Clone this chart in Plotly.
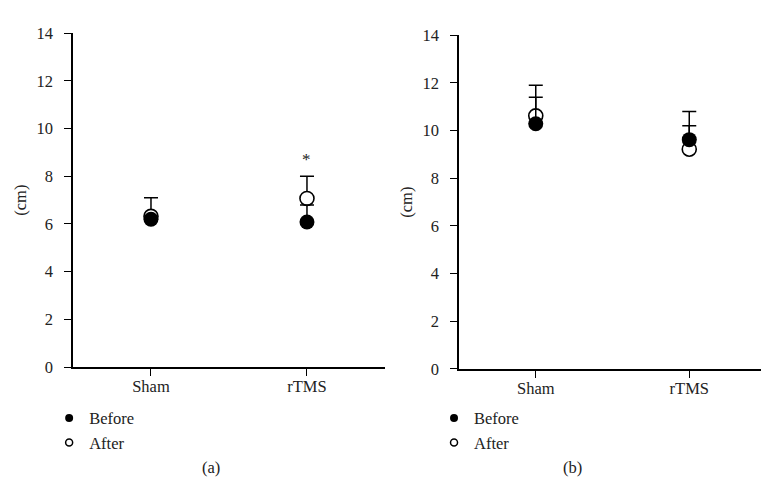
import plotly.graph_objects as go

groups = ["Sham", "rTMS"]
xpos = [1, 2]

# Panel (a)
a_before = [6.2, 6.08]
a_before_err = [0.0, 0.72]
a_after = [6.32, 7.07]
a_after_err = [0.78, 0.93]

# Panel (b)
b_before = [10.29, 9.62]
b_before_err = [1.11, 1.18]
b_after = [10.62, 9.22]
b_after_err = [1.28, 0.98]

yticks = [0, 2, 4, 6, 8, 10, 12, 14]

FONT = "Liberation Serif"
FS = 16.5
fig = go.Figure()


def add_panel(xa, ya, before, berr, after, aerr):
    fig.add_trace(go.Scatter(
        x=xpos, y=after, mode="markers", xaxis=xa, yaxis=ya, showlegend=False,
        marker=dict(size=14, color="white", line=dict(color="black", width=1.6)),
        error_y=dict(type="data", symmetric=False, array=aerr, arrayminus=[0, 0],
                     color="black", thickness=1.5, width=7)))
    fig.add_trace(go.Scatter(
        x=xpos, y=before, mode="markers", xaxis=xa, yaxis=ya, showlegend=False,
        marker=dict(size=15, color="black", line=dict(color="black", width=0)),
        error_y=dict(type="data", symmetric=False, array=berr, arrayminus=[0, 0],
                     color="black", thickness=1.5, width=7)))


add_panel("x", "y", a_before, a_before_err, a_after, a_after_err)
add_panel("x2", "y2", b_before, b_before_err, b_after, b_after_err)

# legend proxies
for lg in ["legend", "legend2"]:
    fig.add_trace(go.Scatter(x=[None], y=[None], mode="markers", name="Before", legend=lg,
                             marker=dict(size=8, color="black")))
    fig.add_trace(go.Scatter(x=[None], y=[None], mode="markers", name="After", legend=lg,
                             marker=dict(size=7, color="white", line=dict(color="black", width=1.5))))

axis_common = dict(showline=True, linecolor="black", linewidth=1.5, ticks="outside",
                   ticklen=7, tickwidth=1.2, tickcolor="black", showgrid=False, zeroline=False,
                   tickfont=dict(family=FONT, size=FS, color="#222"))

fig.update_layout(
    width=769, height=486, paper_bgcolor="white", plot_bgcolor="white",
    margin=dict(l=0, r=0, t=0, b=0),
    font=dict(family=FONT, size=FS, color="#222"),
    xaxis=dict(domain=[0.0845, 0.4902], range=[0.5, 2.5], tickvals=xpos, ticktext=groups,
               anchor="y", ticklabelstandoff=-4, **axis_common),
    yaxis=dict(domain=[0.2502, 0.9656], range=[0, 14], tickvals=yticks, anchor="x",
               ticklabelstandoff=8,
               title=dict(text="(cm)", font=dict(family=FONT, size=FS), standoff=6),
               **axis_common),
    xaxis2=dict(domain=[0.5865, 0.9857], range=[0.5, 2.5], tickvals=xpos, ticktext=groups,
                anchor="y2", ticklabelstandoff=-4, **axis_common),
    yaxis2=dict(domain=[0.2463, 0.9609], range=[0, 14], tickvals=yticks, anchor="x2",
                ticklabelstandoff=8,
                title=dict(text="(cm)", font=dict(family=FONT, size=FS), standoff=6),
                **axis_common),
    legend=dict(x=0.0535, y=0.115, xanchor="left", yanchor="middle", bgcolor="rgba(0,0,0,0)",
                font=dict(family=FONT, size=FS), itemwidth=30, tracegroupgap=0),
    legend2=dict(x=0.554, y=0.115, xanchor="left", yanchor="middle", bgcolor="rgba(0,0,0,0)",
                 font=dict(family=FONT, size=FS), itemwidth=30, tracegroupgap=0),
    annotations=[
        dict(x=2, y=8.0, xref="x", yref="y", text="*", showarrow=False, yshift=17,
             font=dict(family=FONT, size=17, color="#222")),
        dict(x=0.2497, y=0.036, xref="paper", yref="paper", text="(a)", showarrow=False,
             yanchor="middle", font=dict(family=FONT, size=FS, color="#222")),
        dict(x=0.749, y=0.036, xref="paper", yref="paper", text="(b)", showarrow=False,
             yanchor="middle", font=dict(family=FONT, size=FS, color="#222")),
    ],
)

fig.write_html("out.html")
